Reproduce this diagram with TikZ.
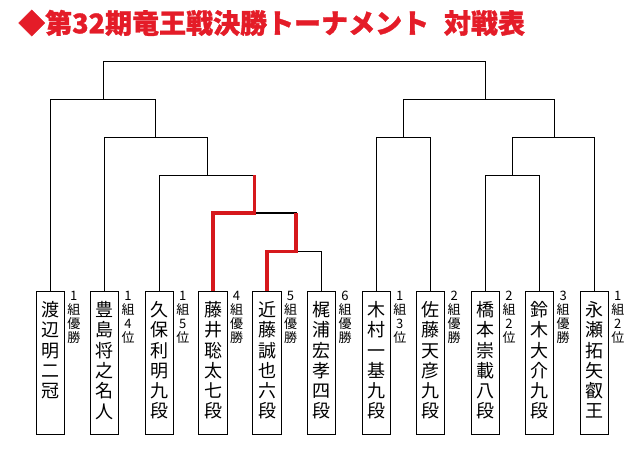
\documentclass[tikz,border=0pt]{standalone}
\usepackage{fontspec}
\newfontfamily\jp{Noto Sans CJK JP}
\definecolor{winred}{RGB}{214,24,28}
\definecolor{titlered}{RGB}{228,28,40}
\tikzset{
 namebox/.style={draw=black, line width=1pt, minimum width=28.5pt, minimum height=143.3pt, inner sep=0pt},
 nametext/.style={anchor=north, align=center, inner sep=0pt, font=\jp\fontsize{18}{20.3}\selectfont},
 sidetext/.style={anchor=north, align=center, inner sep=0pt, font=\jp\fontsize{13}{14.2}\selectfont},
 tree/.style={line width=1.1pt, draw=black},
 win/.style={line width=3.4pt, draw=winred}
}
\begin{document}
\begin{tikzpicture}[x=1pt,y=-1pt]
\useasboundingbox (0,0) rectangle (642,469);
\node[anchor=west, inner sep=0pt, text=titlered, font=\jp\bfseries\addfontfeature{FakeBold=1.2}\fontsize{27}{27}\selectfont] (title) at (18,23) {◆第32期竜王戦決勝トーナメント\hspace{0.55em}対戦表};
% boxes
\foreach \i/\x/\nm/\sd in {
 1/50.3/渡\\辺\\明\\二\\冠/1\\組\\優\\勝,
 2/104.5/豊\\島\\将\\之\\名\\人/1\\組\\4\\位,
 3/159.3/久\\保\\利\\明\\九\\段/1\\組\\5\\位,
 4/213/藤\\井\\聡\\太\\七\\段/4\\組\\優\\勝,
 5/267/近\\藤\\誠\\也\\六\\段/5\\組\\優\\勝,
 6/321.5/梶\\浦\\宏\\孝\\四\\段/6\\組\\優\\勝,
 7/376.3/木\\村\\一\\基\\九\\段/1\\組\\3\\位,
 8/430.7/佐\\藤\\天\\彦\\九\\段/2\\組\\優\\勝,
 9/485.5/橋\\本\\崇\\載\\八\\段/2\\組\\2\\位,
 10/539.7/鈴\\木\\大\\介\\九\\段/3\\組\\優\\勝,
 11/594.3/永\\瀬\\拓\\矢\\叡\\王/1\\組\\2\\位}{
  \node[namebox] (b\i) at (\x,363.3) {};
  \node[nametext] (t\i) at ([yshift=-10pt]b\i.north) {\nm};
  \node[sidetext] (s\i) at ([xshift=23.5pt,yshift=0.5pt]b\i.north) {\sd};
}
% junctions
\coordinate (top) at (294.5,61.3);
\coordinate (L2) at (103.3,99.3);
\coordinate (L3) at (155.3,137.3);
\coordinate (L4) at (207.7,175.3);
\coordinate (L5) at (254.7,213);
\coordinate (L6) at (296,251.5);
\coordinate (R2) at (485.7,99.3);
\coordinate (R3a) at (403.3,137.3);
\coordinate (R3b) at (554.3,137.3);
\coordinate (R4) at (512.7,175.3);
% tree
\draw[tree] (L2) |- (top) -| (R2);
\draw[tree] (b1.north) |- (L2) -| (L3);
\draw[tree] (b2.north) |- (L3) -| (L4);
\draw[tree] (b3.north) |- (L4) -| (L5);
\draw[tree] (b4.north) |- (L5) -| (L6);
\draw[tree] (b5.north) |- (L6) -| (b6.north);
\draw[tree] (R3a) |- (R2) -| (R3b);
\draw[tree] (b7.north) |- (R3a) -| (b8.north);
\draw[tree] (R4) |- (R3b) -| (b11.north);
\draw[tree] (b9.north) |- (R4) -| (b10.north);
% winners
\draw[win] (b4.north) |- (L5) -- (L5 |- L4);
\draw[win] (b5.north) |- (L6) -- (L6 |- L5);
\end{tikzpicture}
\end{document}
